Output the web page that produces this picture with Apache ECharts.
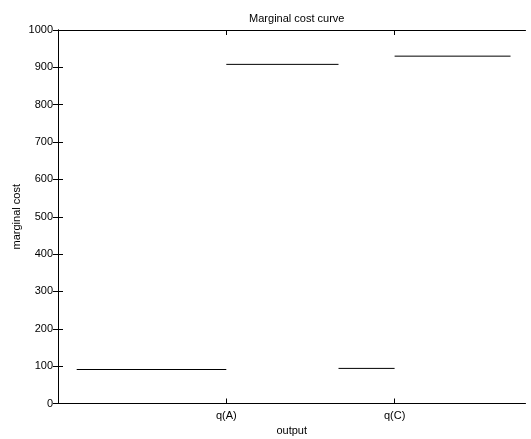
<!DOCTYPE html>
<html>
<head>
<meta charset="utf-8">
<script src="https://cdn.jsdelivr.net/npm/echarts@6/dist/echarts.min.js"></script>
<style>html,body{margin:0;padding:0;background:#fff}#c{width:531px;height:439px}</style>
</head>
<body>
<div id="c"></div>
<script>
// Data
var xTickValues = [9, 18];
var xTickLabels = ['q(A)', 'q(C)'];
var segStart = [1, 9, 15, 18];
var segEnd = [9, 15, 18, 24.2];
var segCost = [91, 908, 94, 930];

var font = 'Liberation Sans, Arial, Helvetica, sans-serif';
var series = segStart.map(function (s, i) {
  return {
    type: 'line',
    xAxisIndex: 0, yAxisIndex: 0,
    data: [[s, segCost[i]], [segEnd[i], segCost[i]]],
    symbol: 'none',
    silent: true,
    lineStyle: { color: '#000', width: 1 }
  };
});

var chart = echarts.init(document.getElementById('c'), null, { renderer: 'canvas' });
var axisCommonX = {
  type: 'value', min: 0, max: 25,
  axisLine: { show: true, onZero: false, lineStyle: { color: '#000', width: 1 } },
  splitLine: { show: false }
};
chart.setOption({
  animation: false,
  backgroundColor: '#fff',
  title: {
    text: 'Marginal cost curve', left: 291.75, textAlign: 'center', top: 8,
    textStyle: { fontFamily: font, fontSize: 11, fontWeight: 'normal', color: '#000' }
  },
  grid: { left: 58, right: 5.5, top: 30, bottom: 35.5, containLabel: false, outerBoundsMode: 'none' },
  xAxis: [
    Object.assign({}, axisCommonX, {
      position: 'bottom',
      name: 'output', nameLocation: 'middle', nameGap: 22, nameMoveOverlap: false,
      nameTextStyle: { fontFamily: font, fontSize: 11, color: '#000' },
      axisTick: { show: true, inside: true, length: 5, customValues: xTickValues, lineStyle: { color: '#000' } },
      axisLabel: {
        show: true, margin: 7, customValues: xTickValues,
        fontFamily: font, fontSize: 11, color: '#000',
        formatter: function (v) { var k = xTickValues.indexOf(v); return k >= 0 ? xTickLabels[k] : ''; }
      }
    }),
    Object.assign({}, axisCommonX, {
      position: 'top',
      axisTick: { show: true, inside: true, length: 5, customValues: xTickValues, lineStyle: { color: '#000' } },
      axisLabel: { show: false }
    })
  ],
  yAxis: [
    {
      type: 'value', min: 0, max: 1000, interval: 100, position: 'left',
      name: 'marginal cost', nameLocation: 'middle', nameGap: 36, nameMoveOverlap: false,
      nameTextStyle: { fontFamily: font, fontSize: 11, color: '#000' },
      axisLine: { show: true, lineStyle: { color: '#000', width: 1 } },
      axisTick: { show: true, inside: true, length: 5, lineStyle: { color: '#000' } },
      axisLabel: { show: true, inside: false, margin: 5, fontFamily: font, fontSize: 11, color: '#000',
        formatter: function (v) { return String(v); } },
      splitLine: { show: false }
    },
    {
      type: 'value', min: 0, max: 1000, interval: 100, position: 'right',
      axisLine: { show: true, lineStyle: { color: '#000', width: 1 } },
      axisTick: { show: true, inside: true, length: 5, lineStyle: { color: '#000' } },
      axisLabel: { show: false },
      splitLine: { show: false }
    }
  ],
  series: series
});
</script>
</body>
</html>
